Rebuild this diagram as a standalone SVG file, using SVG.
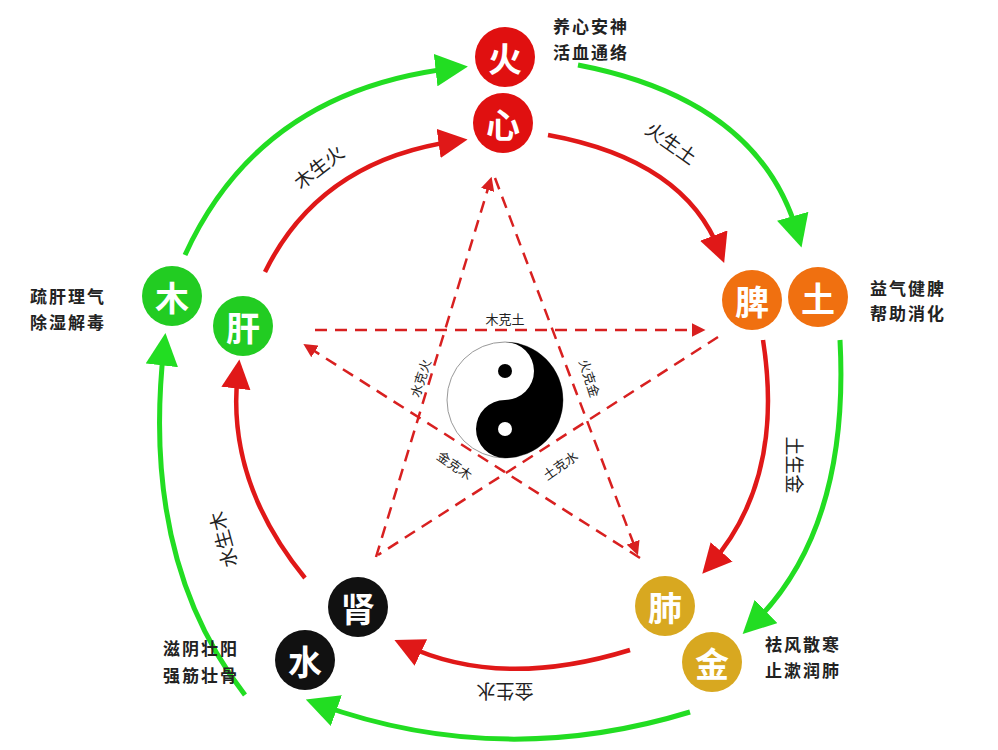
<svg xmlns="http://www.w3.org/2000/svg" width="998" height="750" viewBox="0 0 998 750">
<style>
.g{fill:none;stroke:#22dd22;stroke-width:5}
.r{fill:none;stroke:#e01818;stroke-width:4.5}
.d{fill:none;stroke:#d82020;stroke-width:2.5;stroke-dasharray:12,8}
.n{font-family:"Noto Sans CJK SC",sans-serif;font-size:34px;font-weight:bold;fill:#fff;text-anchor:middle;dominant-baseline:central}
.s{font-family:"Noto Sans CJK SC",sans-serif;font-size:17px;font-weight:bold;fill:#222;letter-spacing:2px}
.l{font-family:"Noto Sans CJK SC",sans-serif;font-size:19px;fill:#222;text-anchor:middle;dominant-baseline:central}
.k{font-family:"Noto Sans CJK SC",sans-serif;font-size:13px;fill:#222;text-anchor:middle;dominant-baseline:central}
</style>
<defs>
<marker id="ag" viewBox="0 0 10 10" refX="6" refY="5" markerWidth="6.5" markerHeight="6.5" orient="auto" markerUnits="strokeWidth"><path d="M0,0L10,5L0,10z" fill="#22dd22"/></marker>
<marker id="ar" viewBox="0 0 10 10" refX="6" refY="5" markerWidth="6.5" markerHeight="6.5" orient="auto" markerUnits="strokeWidth"><path d="M0,0L10,5L0,10z" fill="#e01818"/></marker>
<marker id="ad" viewBox="0 0 10 10" refX="6" refY="5" markerWidth="5.5" markerHeight="5.5" orient="auto" markerUnits="strokeWidth"><path d="M0,0L10,5L0,10z" fill="#d82020"/></marker>
</defs>
<rect width="998" height="750" fill="#fff"/>
<g id="connectors">
<path class="g" d="M185,255 Q260,90 455,68" marker-end="url(#ag)"/>
<path class="g" d="M578,65 Q760,100 798,235" marker-end="url(#ag)"/>
<path class="g" d="M840,340 Q850,530 752,625" marker-end="url(#ag)"/>
<path class="g" d="M690,712 Q500,770 318,704" marker-end="url(#ag)"/>
<path class="g" d="M245,695 Q140,560 164,346" marker-end="url(#ag)"/>
<path class="r" d="M265,272 Q320,160 456,141" marker-end="url(#ar)"/>
<path class="r" d="M548,135 Q685,160 720,252" marker-end="url(#ar)"/>
<path class="r" d="M763,340 Q785,480 710,565" marker-end="url(#ar)"/>
<path class="r" d="M630,650 Q500,690 405,645" marker-end="url(#ar)"/>
<path class="r" d="M305,578 Q225,480 238,371" marker-end="url(#ar)"/>
<path class="d" d="M315,330 L700,330" marker-end="url(#ad)"/>
<path class="d" d="M495,178 L636,550" marker-end="url(#ad)"/>
<path class="d" d="M718,337 L378,555"/>
<path class="d" d="M376,557 L490,182" marker-end="url(#ad)"/>
<path class="d" d="M640,558 L308,347" marker-end="url(#ad)"/>
</g>
<g id="labels">
<text class="l" transform="translate(318,166) rotate(-38)">木生火</text>
<text class="l" transform="translate(672,142) rotate(35)">火生土</text>
<text class="l" transform="translate(795,465) rotate(90)">土生金</text>
<text class="l" transform="translate(505,692) rotate(180)">金生水</text>
<text class="l" transform="translate(222,540) rotate(-105)">水生木</text>
<text class="k" x="505" y="318">木克土</text>
<text class="k" transform="translate(420,378) rotate(-72)">水克火</text>
<text class="k" transform="translate(590,378) rotate(72)">火克金</text>
<text class="k" transform="translate(455,465) rotate(35)">金克木</text>
<text class="k" transform="translate(560,465) rotate(-35)">土克水</text>
</g>
<g id="taiji">
<circle cx="505" cy="400" r="58" fill="#fff" stroke="#999" stroke-width="1"/>
<path d="M505,342 A58,58 0 0 1 505,458 A29,29 0 0 1 505,400 A29,29 0 0 0 505,342z" fill="#000"/>
<circle cx="505" cy="371" r="7" fill="#000"/>
<circle cx="505" cy="429" r="7" fill="#fff"/>
</g>
<g id="fire"><circle cx="505" cy="57" r="30" fill="#e01010"/><text class="n" x="505" y="57">火</text></g>
<g id="heart"><circle cx="503" cy="123" r="30" fill="#e01010"/><text class="n" x="503" y="123">心</text></g>
<g id="spleen"><circle cx="752" cy="300" r="30" fill="#f07010"/><text class="n" x="752" y="300">脾</text></g>
<g id="earth"><circle cx="818" cy="297" r="30" fill="#f07010"/><text class="n" x="818" y="297">土</text></g>
<g id="lung"><circle cx="665" cy="606" r="30" fill="#d8a820"/><text class="n" x="665" y="606">肺</text></g>
<g id="metal"><circle cx="712" cy="662" r="30" fill="#d8a820"/><text class="n" x="712" y="662">金</text></g>
<g id="kidney"><circle cx="358" cy="607" r="30" fill="#111"/><text class="n" x="358" y="607">肾</text></g>
<g id="water"><circle cx="305" cy="660" r="30" fill="#111"/><text class="n" x="305" y="660">水</text></g>
<g id="wood"><circle cx="172" cy="296" r="30" fill="#22cc22"/><text class="n" x="172" y="296">木</text></g>
<g id="liver"><circle cx="243" cy="326" r="30" fill="#22cc22"/><text class="n" x="243" y="326">肝</text></g>
<g id="notes">
<text class="s" x="553" y="33">养心安神</text><text class="s" x="553" y="59">活血通络</text>
<text class="s" x="870" y="295">益气健脾</text><text class="s" x="870" y="320">帮助消化</text>
<text class="s" x="765" y="651">祛风散寒</text><text class="s" x="765" y="677">止漱润肺</text>
<text class="s" x="163" y="655">滋阴壮阳</text><text class="s" x="163" y="682">强筋壮骨</text>
<text class="s" x="30" y="303">疏肝理气</text><text class="s" x="30" y="329">除湿解毒</text>
</g>
</svg>
